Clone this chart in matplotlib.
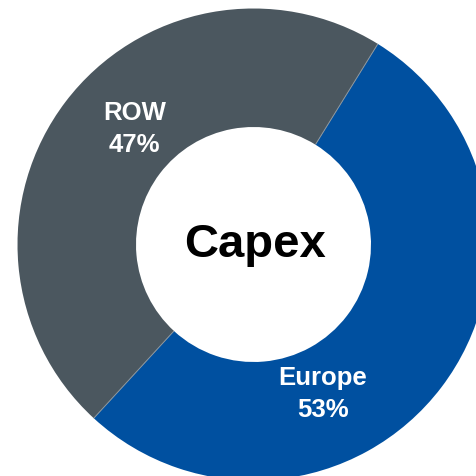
import numpy as np
import matplotlib.pyplot as plt

regions = ['ROW', 'Europe']
shares = [47, 53]
colors = ['#4b575f', '#0050a0']
title = 'Capex'

plt.rcParams['font.family'] = ['Liberation Sans', 'DejaVu Sans']

fig = plt.figure(figsize=(4.77, 4.76), dpi=100)
ax = fig.add_axes([0, 0, 1, 1])
ax.set_xlim(0, 477)
ax.set_ylim(0, 476)
ax.axis('off')

cx, cy = 253.5, 476 - 244.5
r_out, r_in = 236, 117.5

wedges, _ = ax.pie(shares, colors=colors, startangle=58.2, counterclock=True,
                   center=(cx, cy), radius=r_out, frame=True,
                   wedgeprops=dict(width=r_out - r_in, linewidth=0))
ax.set_xlim(0, 477)
ax.set_ylim(0, 476)
ax.axis('off')

# thin light separators between the two segments
for w in wedges:
    t = np.deg2rad(w.theta1)
    ax.plot([cx + r_in * np.cos(t), cx + r_out * np.cos(t)],
            [cy + r_in * np.sin(t), cy + r_out * np.sin(t)],
            color='#8c959b', lw=0.7, solid_capstyle='butt')

# label positions (x, baseline of first line) in pixels from the top-left
label_pos = {'ROW': (134.5, 120), 'Europe': (323, 385)}
for name, val in zip(regions, shares):
    x, y = label_pos[name]
    ax.text(x, 476 - y, name, ha='center', va='baseline', color='white',
            fontsize=18.5, fontweight='bold')
    ax.text(x, 476 - y - 32, f'{val}%', ha='center', va='baseline', color='white',
            fontsize=18.5, fontweight='bold')

ax.text(255.5, 476 - 257, title, ha='center', va='baseline', color='black',
        fontsize=34, fontweight='bold')

fig.savefig('out.png', dpi=100)
